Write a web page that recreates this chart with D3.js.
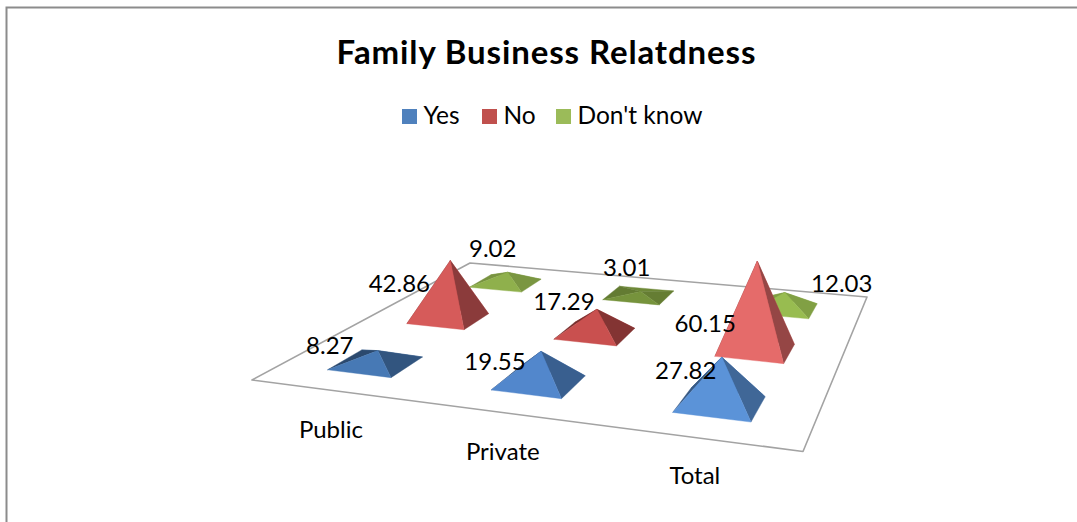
<!DOCTYPE html>
<html><head><meta charset="utf-8">
<script src="https://cdn.jsdelivr.net/npm/d3@7/dist/d3.min.js"></script>
<style>html,body{margin:0;padding:0;background:#fff}svg{display:block}text{font-family:Lato,Carlito,sans-serif;fill:#000}</style>
</head><body><svg width="1077" height="522"></svg>
<script>
const categories = ["Public","Private","Total"];
const seriesNames = ["Yes","No","Don't know"];
const yesValues = [8.27,19.55,27.82];
const noValues = [42.86,17.29,60.15];
const dontKnowValues = [9.02,3.01,12.03];
const valueLabels = [yesValues,noValues,dontKnowValues];
const legendColors = ["#4f81bd","#c0504d","#9bbb59"];
const faceColors = [["#4779b5","#5287cc","#5b93d8"],["#d65b5a","#c9504f","#e56b6a"],["#8fb04c","#76933c","#98bc50"]];
const rightShade = [1.0,1.2,0.45];
const leftShade = [1.4,1.5,0.5];
const backShade = [0.35,0.35,0.2];
const labelOffsets = [[[-46,-5],[-44,10],[-34,13]],[[-49,23],[-31,-8],[-50,62]],[[-13,-24],[-12,-24],[59,-9]]];
const catOffsets = [[-1,38],[-2,37.5],[-3,36]];
const floor = [[252,380],[803,451.5],[867,297],[470,263]];

const svg = d3.select("svg");
const X = d3.scaleBand().domain(categories).range([0,1]).paddingInner(0.6).paddingOuter(0.3);
const Z = d3.scaleBand().domain(seriesNames).range([0,1]).paddingInner(0.6).paddingOuter(0.3);
const Y = d3.scaleLinear().domain([0,60]).range([0,85]);

// projective mapping of the unit floor square
const [[x0,y0],[x1,y1],[x2,y2],[x3,y3]] = floor;
const sx=x0-x1+x2-x3, sy=y0-y1+y2-y3, dx1=x1-x2, dx2=x3-x2, dy1=y1-y2, dy2=y3-y2;
const det=dx1*dy2-dx2*dy1;
const g=(sx*dy2-dx2*sy)/det, h=(dx1*sy-sx*dy1)/det;
const a=x1-x0+g*x1, b=x3-x0+h*x3, d=y1-y0+g*y1, e=y3-y0+h*y3;
const project=(u,v)=>{const w=g*u+h*v+1;return [(a*u+b*v+x0)/w,(d*u+e*v+y0)/w,1/w];};
const wRef=project(0.5,0.5)[2];

// frame
svg.append("path").attr("d",d3.line()([[6.5,522],[6.5,7.5],[1077,7.5]])).attr("fill","none").attr("stroke","#8c8c8c").attr("stroke-width",2);
// floor
svg.append("path").attr("d",d3.line()(floor)+"Z").attr("fill","#fff").attr("stroke","#a3a3a3").attr("stroke-width",1.6).attr("stroke-linejoin","round");

// pyramids back to front
const line=d3.line();
[2,1,0].forEach(si=>{
  categories.forEach((c,ci)=>{
    const v0=Z(seriesNames[si]), v1=v0+Z.bandwidth();
    const u0=X(c), u1=u0+X.bandwidth();
    const FL=project(u0,v0),FR=project(u1,v0),BR=project(u1,v1),BL=project(u0,v1);
    const C=project((u0+u1)/2,(v0+v1)/2);
    const apex=[C[0]+2,C[1]-Y(valueLabels[si][ci])*C[2]/wRef];
    const base=d3.color(faceColors[si][ci]);
    const faces=[[[BL,BR,apex],base.darker(backShade[si])],[[FL,BL,apex],base.darker(leftShade[si])],[[FR,BR,apex],base.darker(rightShade[si])],[[FL,FR,apex],base]];
    faces.forEach(([pts,col])=>svg.append("path").attr("d",line(pts.map(p=>[p[0],p[1]]))+"Z").attr("fill",col).attr("stroke",col).attr("stroke-width",0.4).attr("stroke-linejoin","round"));
    const o=labelOffsets[si][ci];
    svg.append("text").datum(valueLabels[si][ci]).attr("class","vl").attr("x",apex[0]-2+o[0]).attr("y",apex[1]+o[1]+8.5).attr("text-anchor","middle").attr("font-size",24).text(dd=>dd.toFixed(2));
  });
});
svg.selectAll("text.vl").raise();

// category labels
categories.forEach((c,i)=>{
  const p=project(X(c)+X.bandwidth()/2,0);
  svg.append("text").attr("x",p[0]+catOffsets[i][0]).attr("y",p[1]+catOffsets[i][1]+10).attr("text-anchor","middle").attr("font-size",24).text(c);
});

// title
svg.append("text").attr("x",546.5).attr("y",63.5).attr("text-anchor","middle").attr("font-size",33).attr("font-weight",700).attr("letter-spacing",0.88).text("Family Business Relatdness");

// legend
const legendX=d3.scaleOrdinal().domain(seriesNames).range([402,482,556]);
seriesNames.forEach((s,i)=>{
  svg.append("rect").attr("x",legendX(s)).attr("y",109).attr("width",15).attr("height",15).attr("fill",legendColors[i]);
  svg.append("text").attr("x",legendX(s)+21.5).attr("y",124).attr("font-size",24.5).text(s);
});
</script></body></html>
